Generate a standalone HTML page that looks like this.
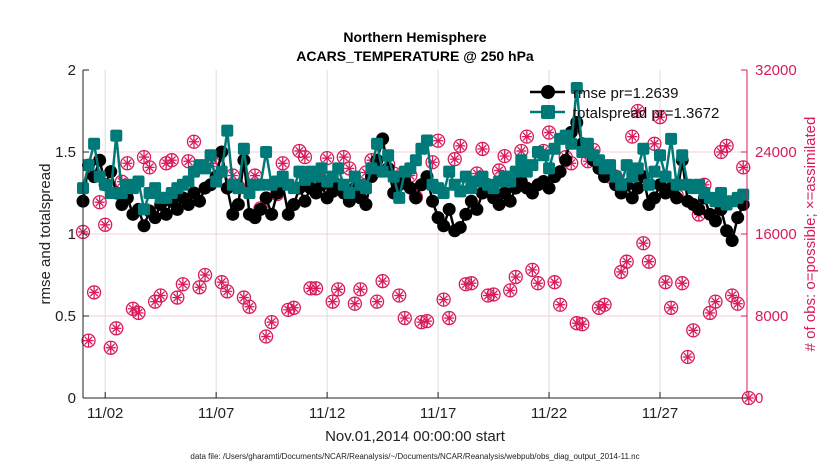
<!DOCTYPE html>
<html><head><meta charset="utf-8"><style>
body{margin:0;background:#fff;}
svg{display:block;font-family:"Liberation Sans",sans-serif;}
</style></head><body>
<svg id="chart" width="830" height="470">
<rect width="830" height="470" fill="#fff"/>
<g id="grid"></g>
<g id="marks"></g>
<g id="axes"></g>
<text x="415" y="42" text-anchor="middle" font-size="14" font-weight="bold">Northern Hemisphere</text>
<text x="415" y="61" text-anchor="middle" font-size="14" font-weight="bold">ACARS_TEMPERATURE @ 250 hPa</text>
<text x="415" y="441" text-anchor="middle" font-size="15" fill="#222">Nov.01,2014 00:00:00 start</text>
<text x="415" y="459" text-anchor="middle" font-size="8" fill="#222">data file: /Users/gharamti/Documents/NCAR/Reanalysis/~/Documents/NCAR/Reanalysis/webpub/obs_diag_output_2014-11.nc</text>
<text transform="translate(50,234) rotate(-90)" text-anchor="middle" font-size="15" fill="#222">rmse and totalspread</text>
<text transform="translate(815,234) rotate(-90)" text-anchor="middle" font-size="15" fill="#d81b5c"># of obs: o=possible; ×=assimilated</text>
<g id="legend"></g>
</svg>
<script>
const dayTicks=[1,6,11,16,21,26];
const dayLabels=["11/02","11/07","11/12","11/17","11/22","11/27"];
const leftTicks=[0,0.5,1,1.5,2];
const rightTicks=[0,8000,16000,24000,32000];
const rmse=[1.20,1.42,1.35,1.45,1.30,1.38,1.25,1.18,1.22,1.12,
1.15,1.05,1.14,1.10,1.18,1.12,1.20,1.15,1.22,1.18,
1.25,1.20,1.28,1.30,1.35,1.50,1.28,1.12,1.18,1.45,
1.12,1.10,1.15,1.22,1.12,1.25,1.30,1.12,1.18,1.28,
1.20,1.28,1.25,1.30,1.22,1.26,1.30,1.25,1.20,1.28,
1.22,1.18,1.35,1.45,1.58,1.40,1.25,1.30,1.32,1.28,
1.22,1.30,1.35,1.20,1.10,1.05,1.15,1.02,1.04,1.12,
1.20,1.15,1.25,1.30,1.22,1.18,1.25,1.20,1.28,1.32,
1.28,1.25,1.30,1.32,1.28,1.35,1.38,1.45,1.62,1.68,
1.55,1.50,1.45,1.40,1.35,1.38,1.30,1.25,1.30,1.22,
1.28,1.35,1.18,1.22,1.30,1.25,1.28,1.22,1.45,1.20,
1.18,1.15,1.22,1.12,1.08,1.15,1.02,0.96,1.10,1.18];
const spread=[1.28,1.42,1.55,1.35,1.30,1.25,1.60,1.25,1.30,1.28,
1.32,1.15,1.25,1.28,1.22,1.22,1.25,1.28,1.30,1.32,
1.38,1.42,1.40,1.48,1.32,1.38,1.63,1.30,1.28,1.52,
1.25,1.30,1.30,1.50,1.30,1.32,1.35,1.30,1.28,1.38,
1.33,1.38,1.35,1.40,1.32,1.35,1.40,1.30,1.25,1.35,
1.30,1.28,1.40,1.55,1.38,1.48,1.35,1.22,1.38,1.40,
1.45,1.52,1.57,1.30,1.28,1.25,1.38,1.30,1.26,1.35,
1.28,1.32,1.35,1.30,1.28,1.32,1.35,1.32,1.38,1.45,
1.38,1.42,1.50,1.48,1.40,1.52,1.58,1.60,1.55,1.89,
1.50,1.55,1.48,1.45,1.40,1.42,1.35,1.30,1.42,1.35,
1.40,1.52,1.30,1.38,1.48,1.35,1.58,1.30,1.48,1.30,
1.28,1.30,1.25,1.22,1.20,1.25,1.18,1.20,1.22,1.24];
const obsCount=[16200,5600,10300,19100,16900,4900,6800,21100,22900,8700,
8300,23500,22500,9400,10000,22900,23200,9800,11100,23100,
25000,10800,12000,22600,23500,11300,10400,21700,20600,9800,
8900,21700,18500,6000,7400,19900,22900,8600,8800,24100,
23500,10700,10700,21700,23400,9400,10600,23500,22400,9200,
10600,22000,23200,9400,11400,22800,21900,10000,7800,21700,
19600,7400,7500,23000,25100,9600,7800,23300,24600,11100,
11200,21900,24300,10000,10100,22200,23600,10500,11800,24100,
25500,12500,11200,24100,25900,11300,9100,23500,22900,7300,
7200,23100,24200,8800,9100,21600,21600,12300,13300,25500,
28000,15100,13300,24800,27400,11300,8800,19800,11200,4000,
6600,17900,20800,8300,9400,24000,24600,10000,9200,22500,0];

const X0=83,X1=747,Y0=398,Y1=70;
const xDay=d=>X0+(d/29.92)*(X1-X0);
const xIdx=i=>xDay(i*0.25);
const yL=v=>Y0-(v/2)*(Y0-Y1);
const yR=v=>Y0-(v/32000)*(Y0-Y1);
const NS="http://www.w3.org/2000/svg";
function mk(tag,attrs,parent){const e=document.createElementNS(NS,tag);for(const k in attrs)e.setAttribute(k,attrs[k]);parent.appendChild(e);return e;}
const grid=document.getElementById('grid'),marks=document.getElementById('marks'),axes=document.getElementById('axes'),legend=document.getElementById('legend');

dayTicks.forEach((d,i)=>{
  const x=xDay(d);
  const g=mk('line',{x1:x,x2:x,y1:Y1,y2:Y0,stroke:'#dcdcdc','stroke-width':1},grid);
  
  
  const t=mk('line',{x1:x,x2:x,y1:Y0,y2:Y0-6,stroke:'#222'},axes);
  
  
  const l=mk('text',{x:x,y:Y0+20,'text-anchor':'middle','font-size':15,fill:'#222'},axes);
  l.textContent=dayLabels[i];
  
  
});
rightTicks.forEach(v=>{
  const y=yR(v);
  if(v>0&&v<32000){const g=mk('line',{x1:X0,x2:X1,y1:y,y2:y,stroke:'#f6cddc','stroke-width':1},grid);
  
  }
  const t=mk('line',{x1:X1,x2:X1-6,y1:y,y2:y,stroke:'#d81b5c'},axes);
  
  
  const l=mk('text',{x:X1+8,y:y+5,'font-size':15,fill:'#d81b5c'},axes);
  l.textContent=v;
  
  
});
leftTicks.forEach(v=>{
  const y=yL(v);
  const t=mk('line',{x1:X0,x2:X0+6,y1:y,y2:y,stroke:'#222'},axes);
  
  
  const l=mk('text',{x:X0-7,y:y+5,'text-anchor':'end','font-size':15,fill:'#222'},axes);
  l.textContent=v;
  
  
});
const ax1=mk('line',{x1:X0,x2:X0,y1:Y1,y2:Y0,stroke:'#222'},axes);


const ax2=mk('line',{x1:X0,x2:X1,y1:Y0,y2:Y0,stroke:'#222'},axes);


const ax3=mk('line',{x1:X1,x2:X1,y1:Y1,y2:Y0,stroke:'#d81b5c'},axes);



function obsMarker(x,y,parent){
  const g=mk('g',{stroke:'#d81b5c','stroke-width':1.3,fill:'none'},parent);
  mk('circle',{cx:x,cy:y,r:6.5},g);
  mk('line',{x1:x-5,x2:x+5,y1:y,y2:y},g);
  mk('line',{x1:x,x2:x,y1:y-6.5,y2:y+6.5},g);
  mk('line',{x1:x-3.8,x2:x+3.8,y1:y-3.8,y2:y+3.8},g);
  mk('line',{x1:x-3.8,x2:x+3.8,y1:y+3.8,y2:y-3.8},g);
  return g;
}
obsCount.forEach((v,i)=>{
  const g=obsMarker(xIdx(i),yR(v),marks);
  
  
});
const rp=mk('polyline',{points:rmse.map((v,i)=>xIdx(i)+','+yL(v)).join(' '),fill:'none',stroke:'#000','stroke-width':2.5},marks);


rmse.forEach((v,i)=>{
  const c=mk('circle',{cx:xIdx(i),cy:yL(v),r:6.5,fill:'#000'},marks);
  
  
});
const sp=mk('polyline',{points:spread.map((v,i)=>xIdx(i)+','+yL(v)).join(' '),fill:'none',stroke:'#007a78','stroke-width':2.5},marks);


spread.forEach((v,i)=>{
  const r=mk('rect',{x:xIdx(i)-6,y:yL(v)-6,width:12,height:12,rx:2,fill:'#007a78'},marks);
  
  
});
const lg1=mk('g',{},legend);


mk('line',{x1:530,x2:565,y1:92,y2:92,stroke:'#000','stroke-width':2.5},lg1);
mk('circle',{cx:548,cy:92,r:7,fill:'#000'},lg1);
const t1=mk('text',{x:573,y:98,'font-size':15,fill:'#111'},lg1);t1.textContent='rmse pr=1.2639';
const lg2=mk('g',{},legend);


mk('line',{x1:530,x2:565,y1:112,y2:112,stroke:'#007a78','stroke-width':2.5},lg2);
mk('rect',{x:541,y:105,width:14,height:14,rx:2,fill:'#007a78'},lg2);
const t2=mk('text',{x:573,y:118,'font-size':15,fill:'#111'},lg2);t2.textContent='totalspread pr=1.3672';
</script>
</body></html>
